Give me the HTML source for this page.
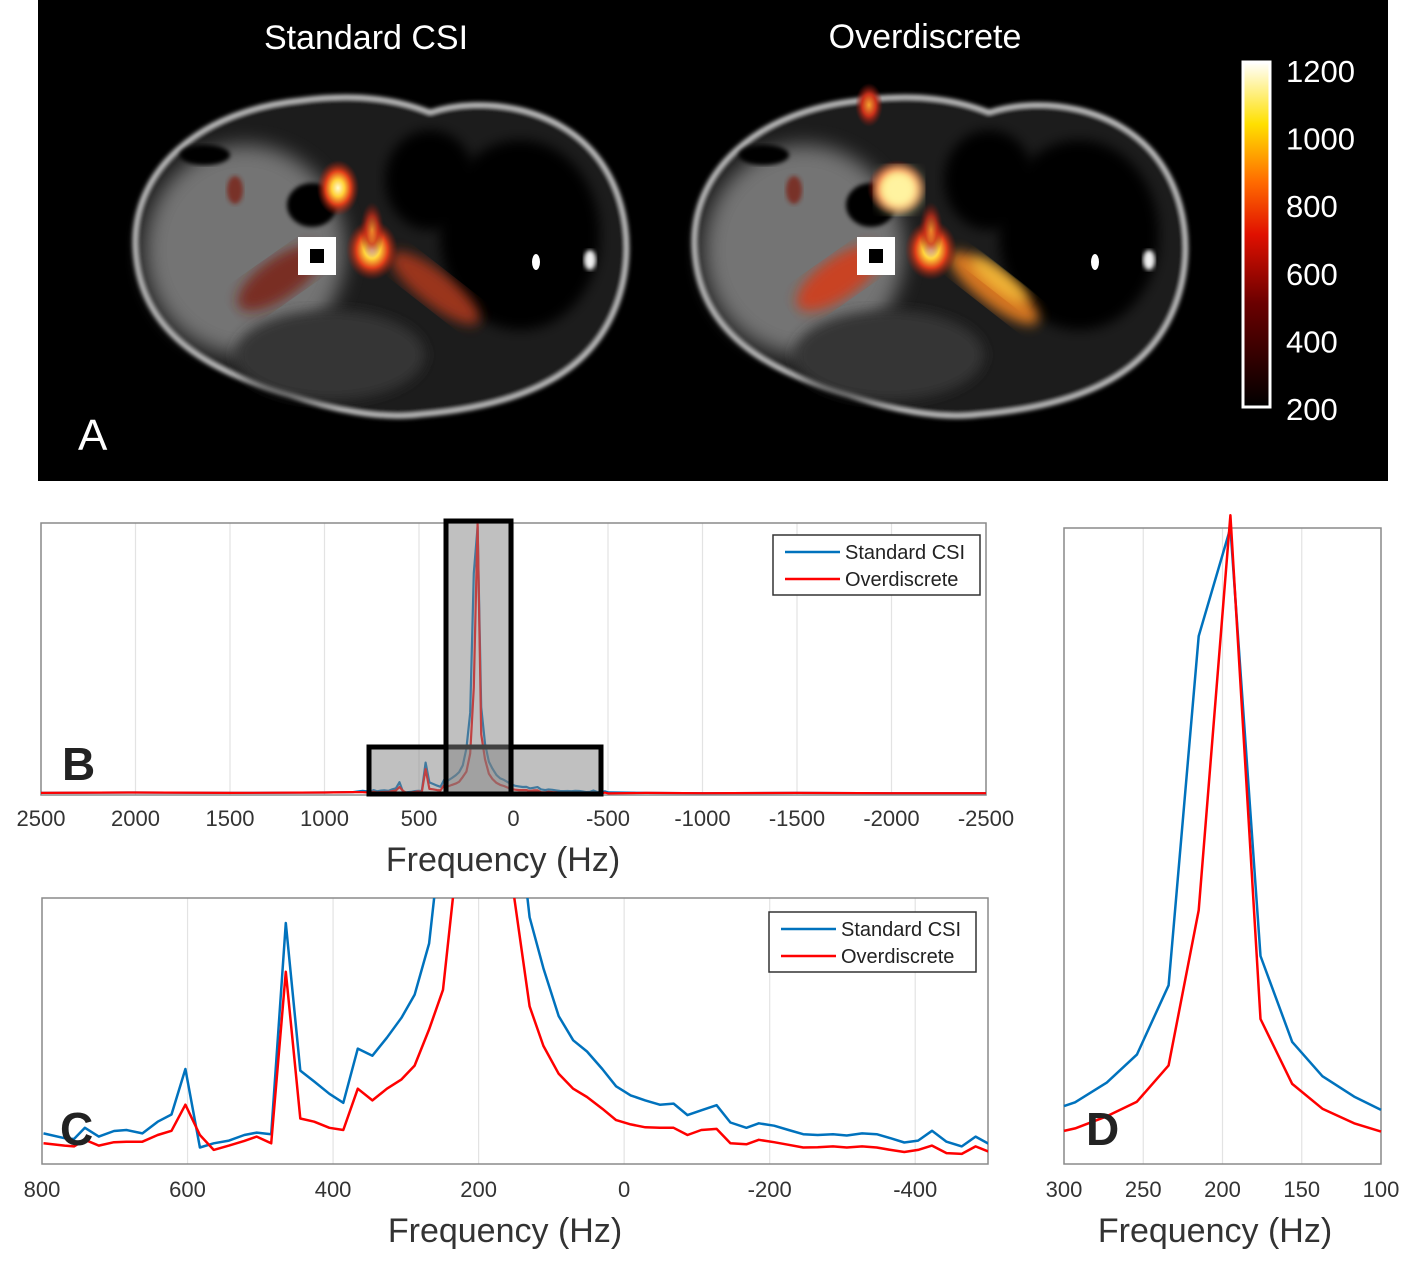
<!DOCTYPE html>
<html><head><meta charset="utf-8"><style>
html,body{margin:0;padding:0;background:#fff;}
svg{display:block;font-family:"Liberation Sans",sans-serif;}
</style></head><body>
<svg id="fig" width="1420" height="1276" viewBox="0 0 1420 1276" xmlns="http://www.w3.org/2000/svg">
<defs>
<filter id="blur6"><feGaussianBlur stdDeviation="6"/></filter>
<filter id="blur3"><feGaussianBlur stdDeviation="2"/></filter>
<filter id="blur10"><feGaussianBlur stdDeviation="10"/></filter>
<radialGradient id="hot" cx="50%" cy="50%" r="50%">
<stop offset="0" stop-color="#fffbd0"/><stop offset="0.3" stop-color="#ffd23a"/><stop offset="0.6" stop-color="#e0401a"/><stop offset="1" stop-color="#8a1a10" stop-opacity="0"/></radialGradient>
<radialGradient id="warm" cx="50%" cy="50%" r="50%">
<stop offset="0" stop-color="#f3a030"/><stop offset="0.5" stop-color="#c8301a"/><stop offset="1" stop-color="#7a1510" stop-opacity="0"/></radialGradient>
<linearGradient id="cbar" x1="0" y1="1" x2="0" y2="0">
<stop offset="0" stop-color="#000"/><stop offset="0.3" stop-color="#6a0000"/><stop offset="0.5" stop-color="#e01000"/><stop offset="0.65" stop-color="#ff6a00"/><stop offset="0.82" stop-color="#ffe000"/><stop offset="1" stop-color="#ffffff"/></linearGradient>
<clipPath id="clipC"><rect x="42" y="898" width="946" height="266"/></clipPath>
<clipPath id="clipA"><rect x="38" y="0" width="1350" height="481"/></clipPath>
</defs>
<g id="panelA" clip-path="url(#clipA)">
<rect x="38" y="0" width="1350" height="481" fill="#000"/>
</g>
<g id="panelB"></g>
<g id="panelC"></g>
<g id="panelD"></g>
</svg>
<script>
// ---- data ----
const cFreq=[798,769,756,741,722,701,684,662,641,622,603,583,564,543,522,505,485,465,445,426,405,386,366,346,326,306,288,268,249,229,210,190,171,151,130,111,90,70,51,30,11,-9,-29,-49,-68,-87,-106,-127,-146,-168,-185,-206,-226,-246,-266,-287,-306,-327,-347,-366,-385,-404,-423,-443,-464,-483,-502];
const standardCsi=[0.115,0.097,0.094,0.136,0.103,0.124,0.128,0.115,0.159,0.186,0.357,0.062,0.078,0.088,0.109,0.118,0.112,0.906,0.351,0.310,0.264,0.230,0.434,0.407,0.475,0.550,0.636,0.829,1.3,2.3,6.2,7.5,2.45,1.44,0.928,0.736,0.556,0.465,0.423,0.357,0.292,0.258,0.239,0.223,0.227,0.184,0.202,0.221,0.156,0.136,0.153,0.144,0.128,0.112,0.109,0.112,0.107,0.115,0.112,0.097,0.081,0.088,0.125,0.084,0.066,0.103,0.074];
const overdiscrete=[0.078,0.069,0.066,0.091,0.069,0.082,0.084,0.084,0.109,0.125,0.223,0.109,0.053,0.069,0.087,0.103,0.078,0.723,0.171,0.159,0.136,0.128,0.283,0.239,0.283,0.318,0.370,0.506,0.655,1.16,3.0,7.6,1.7,1.0,0.593,0.444,0.339,0.283,0.252,0.208,0.165,0.149,0.138,0.136,0.136,0.109,0.128,0.132,0.078,0.074,0.091,0.082,0.072,0.062,0.063,0.066,0.062,0.066,0.062,0.053,0.045,0.053,0.069,0.041,0.038,0.066,0.045];
const bLeftFreq=[2500,2000,1500,1000,850];
const bLeftVal=[0.06,0.07,0.06,0.07,0.08];
const bRightFreq=[-700,-1000,-1500,-2000,-2500];
const bRightVal=[0.06,0.05,0.06,0.05,0.05];
const bTicks=[2500,2000,1500,1000,500,0,-500,-1000,-1500,-2000,-2500];
const cTicks=[800,600,400,200,0,-200,-400];
const dFreq=[300,293,273,254,234,215,195,176,156,137,117,100];
const dStandard=[0.091,0.097,0.128,0.172,0.281,0.830,1.0,0.327,0.192,0.138,0.106,0.085];
const dOver=[0.052,0.056,0.075,0.098,0.155,0.399,1.02,0.228,0.126,0.087,0.064,0.051];
const dTicks=[300,250,200,150,100];
const cbarLabels=[1200,1000,800,600,400,200];

const NS="http://www.w3.org/2000/svg";
function mk(parent,tag,attrs,text){const e=document.createElementNS(NS,tag);for(const k in attrs)e.setAttribute(k,attrs[k]);if(text!==undefined)e.textContent=text;parent.appendChild(e);return e;}
function lin(d0,d1,r0,r1){return v=>r0+(v-d0)/(d1-d0)*(r1-r0);}

function axes(g,x0,x1,y0,y1,ticks,sx,labelY,title,titleX){
  ticks.forEach(t=>{const x=sx(t);
    const gl=mk(g,'line',{x1:x,x2:x,y1:y0,y2:y1,stroke:'#e3e3e3','stroke-width':1.2});
    
    
    const tl=mk(g,'text',{x:x,y:labelY,'font-size':22,'text-anchor':'middle',fill:'#333'},String(t));
    
    
  });
  const fr=mk(g,'rect',{x:x0,y:y0,width:x1-x0,height:y1-y0,fill:'none',stroke:'#8a8a8a','stroke-width':1.5});
  
  
  const tt=mk(g,'text',{x:titleX,y:labelY+45,'font-size':34,'text-anchor':'middle',fill:'#333'},title);
  
  
}
function line(g,xs,ys,sx,sy,color,w,name,clip){
  const p=mk(g,'polyline',{points:xs.map((x,i)=>sx(x).toFixed(1)+','+sy(ys[i]).toFixed(1)).join(' '),fill:'none',stroke:color,'stroke-width':w,'stroke-linejoin':'round'});
  if(clip)p.setAttribute('clip-path',clip);
  
  
}
function legend(g,x,y){
  const r=mk(g,'rect',{x:x,y:y,width:207,height:60,fill:'#fff',stroke:'#333','stroke-width':1.5});
  
  
  [['Standard CSI','#0072bd',17],['Overdiscrete','#ff0000',44]].forEach(([t,c,dy])=>{
    const l=mk(g,'line',{x1:x+12,x2:x+67,y1:y+dy,y2:y+dy,stroke:c,'stroke-width':2.5});
    
    
    const tx=mk(g,'text',{x:x+72,y:y+dy+7,'font-size':20,fill:'#222'},t);
    
    
  });
}
function letter(g,t,x,y){const e=mk(g,'text',{x:x,y:y,'font-size':46,'font-weight':'bold',fill:'#222'},t);
  
  }

// ---- Panel B ----
(function(){
  const g=document.getElementById('panelB');
  const sx=lin(2500,-2500,41,986), sy=lin(0,7.6,795,523);
  axes(g,41,986,523,795,bTicks,sx,826,'Frequency (Hz)',503);
  const fx=bLeftFreq.concat(cFreq,bRightFreq);
  line(g,fx,bLeftVal.concat(standardCsi,bRightVal),sx,sy,'#0072bd',2.2,'standard-csi-line-b');
  line(g,fx,bLeftVal.concat(overdiscrete,bRightVal),sx,sy,'#ff0000',2.2,'overdiscrete-line-b');
  const b1=mk(g,'rect',{x:369,y:747,width:232,height:47,fill:'rgba(130,130,130,0.5)',stroke:'#000','stroke-width':5});
  
  
  const b2=mk(g,'rect',{x:446,y:521,width:65,height:273,fill:'rgba(130,130,130,0.5)',stroke:'#000','stroke-width':5});
  
  
  legend(g,773,535);
  letter(g,'B',62,780);
})();
// ---- Panel C ----
(function(){
  const g=document.getElementById('panelC');
  const sx=lin(800,-500,42,988), sy=lin(0,1,1164,898);
  axes(g,42,988,898,1164,cTicks,sx,1197,'Frequency (Hz)',505);
  line(g,cFreq,standardCsi,sx,sy,'#0072bd',2.5,'standard-csi-line-c','url(#clipC)');
  line(g,cFreq,overdiscrete,sx,sy,'#ff0000',2.5,'overdiscrete-line-c','url(#clipC)');
  legend(g,769,912);
  letter(g,'C',60,1145);
})();
// ---- Panel D ----
(function(){
  const g=document.getElementById('panelD');
  const sx=lin(300,100,1064,1381), sy=lin(0,1,1164,528);
  axes(g,1064,1381,528,1164,dTicks,sx,1197,'Frequency (Hz)',1215);
  line(g,dFreq,dStandard,sx,sy,'#0072bd',2.5,'standard-csi-line-d');
  line(g,dFreq,dOver,sx,sy,'#ff0000',2.5,'overdiscrete-line-d');
  letter(g,'D',1086,1145);
})();
// ---- Panel A ----
(function(){
  const g=document.getElementById('panelA');
  function body(dx,strong,name){
    const b=mk(g,'g',{transform:'translate('+dx+',0)'});
    
    
    mk(b,'path',{d:'M135,250 C130,170 200,110 300,100 C360,92 400,100 430,112 C480,95 560,105 600,160 C640,215 635,300 590,350 C550,395 480,410 420,415 C380,420 330,410 290,395 C220,375 140,340 135,250 Z',fill:'#1e1e1e',stroke:'#d8d8d8','stroke-width':4,filter:'url(#blur3)'});
    mk(b,'ellipse',{cx:245,cy:250,rx:100,ry:105,fill:'#8a8a8a',filter:'url(#blur10)',opacity:0.8});
    mk(b,'ellipse',{cx:330,cy:355,rx:95,ry:45,fill:'#343434',filter:'url(#blur6)'});
    mk(b,'ellipse',{cx:520,cy:235,rx:80,ry:95,fill:'#030303',filter:'url(#blur6)'});
    mk(b,'ellipse',{cx:430,cy:180,rx:45,ry:50,fill:'#060606',filter:'url(#blur6)'});
    mk(b,'ellipse',{cx:312,cy:205,rx:25,ry:22,fill:'#050505',filter:'url(#blur3)'});
    mk(b,'ellipse',{cx:205,cy:155,rx:25,ry:10,fill:'#000',filter:'url(#blur3)'});
    mk(b,'ellipse',{cx:590,cy:260,rx:6,ry:10,fill:'#eee',filter:'url(#blur3)'});
    mk(b,'ellipse',{cx:536,cy:262,rx:4,ry:8,fill:'#fff'});
    const k=strong?1:0.6;
    mk(b,'ellipse',{cx:280,cy:278,rx:50,ry:20,fill:strong?'#d83a18':'#7a2418',opacity:0.85,transform:'rotate(-35 280 278)',filter:'url(#blur6)'});
    mk(b,'ellipse',{cx:435,cy:288,rx:55,ry:17,fill:strong?'#e88020':'#a8381a',opacity:0.9,transform:'rotate(38 435 288)',filter:'url(#blur6)'});
    mk(b,'ellipse',{cx:235,cy:190,rx:8,ry:14,fill:'#7a2018',opacity:0.8,filter:'url(#blur3)'});
    mk(b,'ellipse',{cx:338,cy:188,rx:22*k+8,ry:28,fill:'url(#hot)'});
    mk(b,'ellipse',{cx:372,cy:250,rx:26,ry:30,fill:'url(#hot)'});
    mk(b,'ellipse',{cx:372,cy:230,rx:12,ry:28,fill:'url(#warm)',opacity:0.8});
    if(strong){mk(b,'ellipse',{cx:310,cy:105,rx:14,ry:22,fill:'url(#warm)'});
      mk(b,'ellipse',{cx:340,cy:190,rx:22,ry:22,fill:'#fff3a0',filter:'url(#blur6)'});
      mk(b,'ellipse',{cx:440,cy:280,rx:35,ry:10,fill:'#ffd040',opacity:0.7,transform:'rotate(38 440 280)',filter:'url(#blur6)'});}
    const sq=mk(b,'rect',{x:298,y:237,width:38,height:38,fill:'#fff'});
    
    
    mk(b,'rect',{x:310,y:249,width:14,height:14,fill:'#000'});
  }
  body(0,false,'standard-csi-image');
  body(559,true,'overdiscrete-image');
  const t1=mk(g,'text',{x:366,y:49,'font-size':34,'text-anchor':'middle',fill:'#fff'},'Standard CSI');
  
  
  const t2=mk(g,'text',{x:925,y:48,'font-size':34,'text-anchor':'middle',fill:'#fff'},'Overdiscrete');
  
  
  const a=mk(g,'text',{x:78,y:450,'font-size':44,fill:'#fff'},'A');
  
  
  const cb=mk(g,'rect',{x:1243,y:62,width:27,height:345,fill:'url(#cbar)',stroke:'#fff','stroke-width':3});
  
  
  const cy=lin(1200,200,71,409);
  cbarLabels.forEach(v=>{
    const e=mk(g,'text',{x:1286,y:cy(v)+11,'font-size':31,fill:'#fff'},String(v));
    
    
  });
})();
</script>
</body></html>
